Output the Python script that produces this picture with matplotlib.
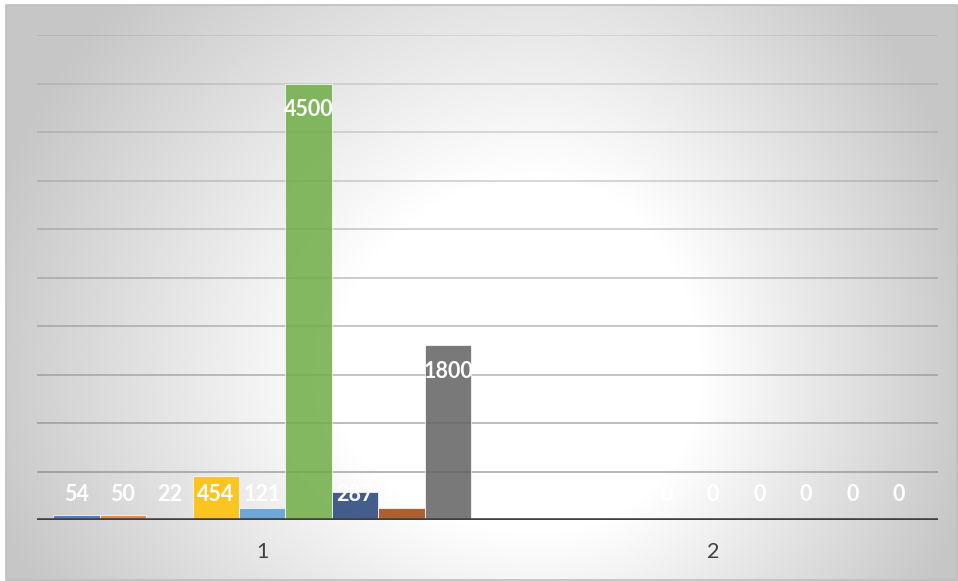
import matplotlib.pyplot as plt
import numpy as np
from matplotlib.patches import Rectangle

plt.rcParams['font.family'] = ['Lato', 'DejaVu Sans']

categories = ['1', '2']
series_1 = [54, 50, 22, 454, 121, 4500, 287, 120, 1800]
series_2 = [0, 0, 0, 0, 0, 0, 0, 0, 0]
colores = ['#4472C4', '#ED7D31', '#A5A5A5', '#FFC000', '#5B9BD5',
           '#70AD47', '#264478', '#9E480E', '#636363']

W, H = 958, 581
fig = plt.figure(figsize=(W / 100, H / 100), dpi=100)

# fondo con degradado (tipo Excel), centro claro desplazado
bg = fig.add_axes([0, 0, 1, 1])
yy, xx = np.mgrid[0:H, 0:W].astype(float)
cx, cy = 540, 380
u = np.where(xx < cx, (xx - cx) / 520, (xx - cx) / 400)
w = np.where(yy < cy, (yy - cy) / 508, (yy - cy) / 380)
d = np.sqrt(u ** 2 + w ** 2)
v = 1 - 0.22 * np.clip((d - 0.4) / 0.7, 0, 1)
img = np.dstack([v, v, v])
img[:5, :, :] = 1.0
img[:, :6, :] = 1.0
bg.imshow(img, extent=[0, W, H, 0], aspect='auto', interpolation='bilinear')
bg.add_patch(Rectangle((6, 5), W - 7, H - 6, fill=False, edgecolor='#BFBFBF', lw=1.2))
bg.set_xlim(0, W)
bg.set_ylim(H, 0)
bg.axis('off')

ax = fig.add_axes([37 / W, (H - 520) / H, (938 - 37) / W, (520 - 35) / H])
ax.patch.set_alpha(0)

x = np.arange(len(categories))
ancho = 0.1032
n = len(series_1)
for i in range(n):
    vals = [series_1[i], series_2[i]]
    pos = x + (i - (n - 1) / 2) * ancho
    ax.bar(pos, vals, width=ancho, color=colores[i], alpha=0.86,
           edgecolor='white', linewidth=0.6, zorder=3)
    for p, val in zip(pos, vals):
        ax.text(p, max(val - 268, 268), str(val), ha='center', va='center',
                color='white', fontsize=15.5, fontweight='bold', zorder=5)

ticks = np.arange(500, 5001, 500)
for k, t in enumerate(ticks):
    a = 0.6 - 0.4 * k / (len(ticks) - 1)
    ax.axhline(t, color='#7F7F7F', alpha=a, lw=1.3, zorder=1)
ax.axhline(0, color='#404040', lw=2.6, zorder=6)

ax.set_xlim(-0.5, 1.5)
ax.set_ylim(0, 5000)
ax.set_yticks([])
ax.set_xticks(x)
ax.set_xticklabels(categories, fontsize=15.5, color='#404040')
ax.tick_params(axis='x', length=0, pad=16)
for s in ax.spines.values():
    s.set_visible(False)

plt.savefig('out.png', dpi=100)
